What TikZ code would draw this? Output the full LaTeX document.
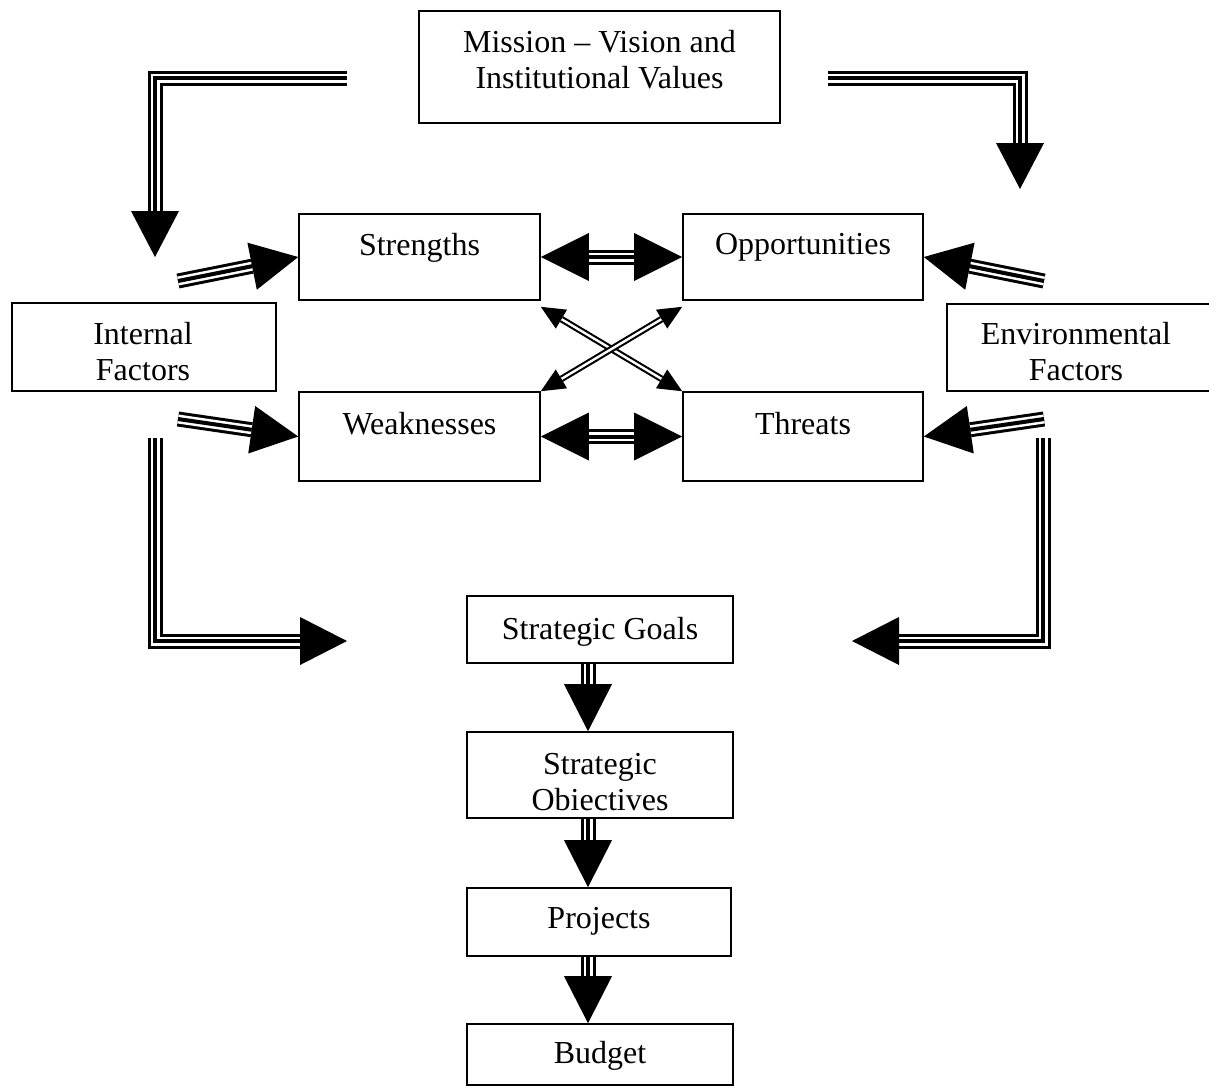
\documentclass[tikz,border=0pt]{standalone}
\usepackage{fontspec}
\setmainfont{Liberation Serif}
\usetikzlibrary{calc}
\tikzset{
  box/.style={draw, line width=1.6pt, inner sep=0pt},
  txt/.style={anchor=north, inner sep=0pt, align=center, font=\fontsize{32}{36}\selectfont},
  tri/.style={draw=white, line width=9pt, line join=miter,
    preaction={draw=black, line width=15pt},
    postaction={draw=black, line width=4pt}},
  dbl/.style={draw=white, line width=2.4pt,
    preaction={draw=black, line width=6.6pt}}
}
\newcommand\headto[3]{\fill ($(#1)!#3!90:(#2)$) -- (#2) -- ($(#1)!#3!-90:(#2)$) -- cycle;}
\begin{document}
\begin{tikzpicture}[x=1pt,y=-1pt]
\useasboundingbox (0,0) rectangle (1209,1088);
% boxes
\node[box,minimum width=361pt,minimum height=112pt] (mis) at (599.5,67) {};
\node[txt] (misT) at (599.5,30) {Mission – Vision and\\Institutional Values};
\node[box,minimum width=241pt,minimum height=86pt] (str) at (419.5,257) {};
\node[txt] (strT) at (419.5,233) {Strengths};
\node[box,minimum width=240pt,minimum height=86pt] (opp) at (803,257) {};
\node[txt] (oppT) at (803,233) {Opportunities};
\node[box,minimum width=264pt,minimum height=88pt] (int) at (144,347) {};
\node[txt] (intT) at (143,322) {Internal\\Factors};
\node[box,minimum width=264pt,minimum height=87pt] (env) at (1079,347.5) {};
\node[txt] (envT) at (1076,322) {Environmental\\Factors};
\node[box,minimum width=241pt,minimum height=89pt] (wea) at (419.5,436.5) {};
\node[txt] (weaT) at (419.5,412) {Weaknesses};
\node[box,minimum width=240pt,minimum height=89pt] (thr) at (803,436.5) {};
\node[txt] (thrT) at (803,412) {Threats};
\node[box,minimum width=266pt,minimum height=67pt] (goa) at (600,629.5) {};
\node[txt] (goaT) at (600,617) {Strategic Goals};
\node[box,minimum width=266pt,minimum height=86pt] (obj) at (600,775) {};
\node[txt] (objT) at (600,753) {Strategic\\Obiectives};
\node[box,minimum width=264pt,minimum height=68pt] (pro) at (599,922) {};
\node[txt] (proT) at (599,907) {Projects};
\node[box,minimum width=266pt,minimum height=61pt] (bud) at (600,1054.5) {};
\node[txt] (budT) at (600,1041) {Budget};
% L arrows
\coordinate (a1) at (347,78); \coordinate (a1c) at (155,78);
\coordinate (a1t) at (155,257); \coordinate (a1b) at (155,211);
\draw[tri] (a1) -- (a1c) -- (a1b);
\headto{a1b}{a1t}{24pt}
\coordinate (a2) at (828,78); \coordinate (a2c) at (1020,78);
\coordinate (a2t) at (1020,189); \coordinate (a2b) at (1020,143);
\draw[tri] (a2) -- (a2c) -- (a2b);
\headto{a2b}{a2t}{24pt}
\coordinate (a3) at (155,438); \coordinate (a3c) at (155,641);
\coordinate (a3t) at (347,641); \coordinate (a3b) at (300,641);
\draw[tri] (a3) -- (a3c) -- (a3b);
\headto{a3b}{a3t}{24pt}
\coordinate (a4) at (1043,438); \coordinate (a4c) at (1043,641);
\coordinate (a4t) at (852,641); \coordinate (a4b) at (899,641);
\draw[tri] (a4) -- (a4c) -- (a4b);
\headto{a4b}{a4t}{24pt}
% slanted arrows into SWOT boxes
\coordinate (s1) at (178,281);
\coordinate (s1b) at ($(str.west)!47pt!(s1)$);
\draw[tri] (s1) -- (s1b); \headto{s1b}{str.west}{24pt}
\coordinate (s2) at (178,419);
\coordinate (s2b) at ($(wea.west)!47pt!(s2)$);
\draw[tri] (s2) -- (s2b); \headto{s2b}{wea.west}{24pt}
\coordinate (s3) at (1044,281);
\coordinate (s3b) at ($(opp.east)!47pt!(s3)$);
\draw[tri] (s3) -- (s3b); \headto{s3b}{opp.east}{24pt}
\coordinate (s4) at (1044,419);
\coordinate (s4b) at ($(thr.east)!47pt!(s4)$);
\draw[tri] (s4) -- (s4b); \headto{s4b}{thr.east}{24pt}
% horizontal double arrows
\coordinate (h1l) at ($(str.east)!48pt!(opp.west)$);
\coordinate (h1r) at ($(opp.west)!48pt!(str.east)$);
\draw[tri] (h1l) -- (h1r);
\headto{h1l}{str.east}{24pt} \headto{h1r}{opp.west}{24pt}
\coordinate (h2l) at ($(wea.east)!48pt!(thr.west)$);
\coordinate (h2r) at ($(thr.west)!48pt!(wea.east)$);
\draw[tri] (h2l) -- (h2r);
\headto{h2l}{wea.east}{24pt} \headto{h2r}{thr.west}{24pt}
% cross arrows
\coordinate (c1a) at ($(str.south east)+(0,6)$);
\coordinate (c1b) at (thr.north west);
\coordinate (c1ah) at ($(c1a)!24pt!(c1b)$);
\coordinate (c1bh) at ($(c1b)!24pt!(c1a)$);
\draw[dbl] (c1ah) -- (c1bh);
\headto{c1ah}{c1a}{11pt} \headto{c1bh}{c1b}{11pt}
\coordinate (c2a) at ($(opp.south west)+(0,6)$);
\coordinate (c2b) at (wea.north east);
\coordinate (c2ah) at ($(c2a)!24pt!(c2b)$);
\coordinate (c2bh) at ($(c2b)!24pt!(c2a)$);
\draw[dbl] (c2ah) -- (c2bh);
\headto{c2ah}{c2a}{11pt} \headto{c2bh}{c2b}{11pt}
% vertical chain
\coordinate (v1s) at ($(goa.south)+(-12,0)$);
\coordinate (v1t) at ($(obj.north)+(-12,0)$);
\coordinate (v1b) at ($(v1t)+(0,-47)$);
\draw[tri] (v1s) -- (v1b); \headto{v1b}{v1t}{24pt}
\coordinate (v2s) at ($(obj.south)+(-12,0)$);
\coordinate (v2t) at ($(pro.north)+(-11,0)$);
\coordinate (v2b) at ($(v2t)+(0,-47)$);
\draw[tri] (v2s) -- (v2b); \headto{v2b}{v2t}{24pt}
\coordinate (v3s) at ($(pro.south)+(-11,0)$);
\coordinate (v3t) at ($(bud.north)+(-12,0)$);
\coordinate (v3b) at ($(v3t)+(0,-47)$);
\draw[tri] (v3s) -- (v3b); \headto{v3b}{v3t}{24pt}
\end{tikzpicture}
\end{document}
